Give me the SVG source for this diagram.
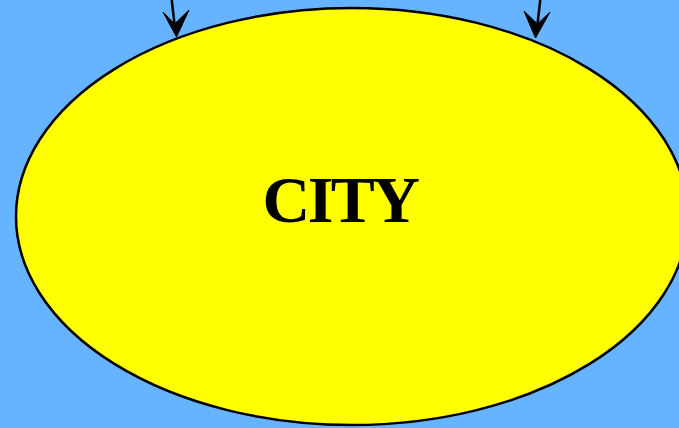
<svg xmlns="http://www.w3.org/2000/svg" width="679" height="428" viewBox="0 0 679 428">
<defs>
<style>
.edge{fill:none;stroke:#000;stroke-width:2.5}
.head{fill:#000;stroke:#000;stroke-width:1}
.lbl{font-family:"Liberation Serif",serif;font-weight:bold;font-size:66px;letter-spacing:-2.5px;fill:#000}
</style>
</defs>
<rect width="679" height="428" fill="#66b3ff"/>
<g id="city">
<ellipse cx="352" cy="216.5" rx="336" ry="208.5" fill="#ffff00" stroke="#000" stroke-width="2.5"/>
<text class="lbl" x="340" y="222" text-anchor="middle">CITY</text>
</g>
<g id="connectors">
<path class="edge" d="M171.5,-2 L174.5,24"/>
<path class="head" d="M176.5,37 L163,12 L174.5,24 L189,10 Z"/>
<path class="edge" d="M540.5,-2 L537.5,24"/>
<path class="head" d="M535.5,38 L550,12 L537.5,24 L524,11 Z"/>
</g>
</svg>
